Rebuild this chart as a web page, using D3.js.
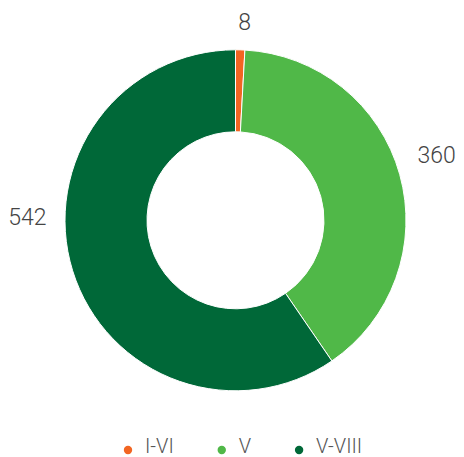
<!DOCTYPE html>
<html>
<head>
<meta charset="utf-8">
<script src="https://cdn.jsdelivr.net/npm/d3@7"></script>
<style>
  body { margin: 0; background: #fff; }
  svg { display: block; font-family: Roboto, "Open Sans", sans-serif; }
</style>
</head>
<body>
<svg id="chart" width="464" height="457"></svg>
<script>
// Chart data
const categories = ['I-VI', 'V', 'V-VIII'];
const values = [8, 360, 542];
const colors = ['#f26522', '#50b848', '#006838'];

const cx = 235.5, cy = 220.3;
const outerRadius = 170.5, innerRadius = 88.5;
const labelRadius = 189;

const svg = d3.select('#chart');

const data = categories.map((c, i) => ({ name: c, value: values[i] }));

// Pie layout, clockwise from 12 o'clock
const pie = d3.pie()
  .sort(null)
  .value(d => d.value);

const arc = d3.arc()
  .innerRadius(innerRadius)
  .outerRadius(outerRadius);

const g = svg.append('g')
  .attr('transform', 'translate(' + cx + ',' + cy + ')');

const slices = g.selectAll('g.slice')
  .data(pie(data))
  .enter()
  .append('g')
  .attr('class', 'slice');

slices.append('path')
  .attr('d', arc)
  .attr('fill', (d, i) => colors[i])
  .attr('stroke', '#fff')
  .attr('stroke-width', 1);

// Label angle: middle of the part of the slice lying in its larger half
function labelAngle(d) {
  let a0 = d.startAngle, a1 = d.endAngle;
  if (a0 < Math.PI && a1 > Math.PI) {
    if (a1 - Math.PI > Math.PI - a0) a0 = Math.PI;
    else a1 = Math.PI;
  }
  return (a0 + a1) / 2;
}

const isTop = d => Math.cos(labelAngle(d)) > 0.95;

slices.append('text')
  .attr('x', d => Math.sin(labelAngle(d)) * labelRadius + (isTop(d) ? 4 : 0))
  .attr('y', d => isTop(d)
    ? -Math.cos(labelAngle(d)) * labelRadius
    : -Math.cos(labelAngle(d)) * 230 - 3)
  .attr('dy', d => isTop(d) ? '-0.05em' : '0.35em')
  .attr('text-anchor', d => {
    const s = Math.sin(labelAngle(d));
    return isTop(d) ? 'middle' : (s > 0 ? 'start' : 'end');
  })
  .style('font-size', '23px')
  .style('font-weight', 300)
  .style('fill', '#444')
  .text(d => d.data.value);

// Legend
const legend = svg.append('g')
  .attr('transform', 'translate(0,' + 446 + ')');

let x = 128;
categories.forEach((c, i) => {
  const item = legend.append('g');
  item.append('circle')
    .attr('cx', x)
    .attr('cy', 4)
    .attr('r', 4.2)
    .attr('fill', colors[i]);
  const t = item.append('text')
    .attr('x', x + 17)
    .attr('y', 0)
    .attr('dy', '0.35em')
    .style('font-size', '20px')
    .style('font-weight', 300)
    .style('fill', '#555')
    .text(c);
  x += 17 + t.node().getComputedTextLength() + 48;
});
</script>
</body>
</html>
